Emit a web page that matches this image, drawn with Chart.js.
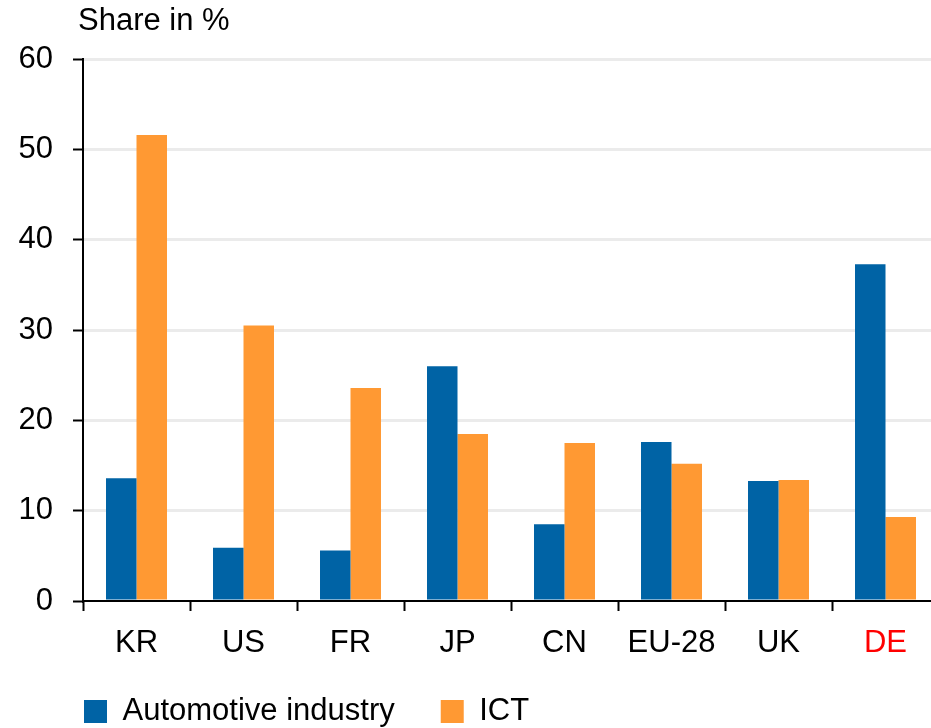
<!DOCTYPE html>
<html>
<head>
<meta charset="utf-8">
<script src="https://cdn.jsdelivr.net/npm/chart.js@4/dist/chart.umd.min.js"></script>
<style>
  html, body { margin: 0; padding: 0; overflow: hidden; background: #fff; }
  canvas { display: block; }
</style>
</head>
<body>
<canvas id="c" width="939" height="728"></canvas>
<script>
const categories = ["KR", "US", "FR", "JP", "CN", "EU-28", "UK", "DE"];
const automotive = [13.6, 5.9, 5.6, 26.0, 8.5, 17.6, 13.3, 37.3];
const ict = [51.6, 30.5, 23.6, 18.5, 17.5, 15.2, 13.4, 9.3];
const seriesNames = ["Automotive industry", "ICT"];
const seriesColors = ["#0063a5", "#ff9933"];
const yTitle = "Share in %";
const highlighted = "DE";

const FONT = "'Liberation Sans', Arial, sans-serif";
const FS = 31;
const LEG_PAD = 46;

const shiftPlugin = {
  id: 'shiftPlugin',
  afterLayout(chart) {
    if (chart.titleBlock) {
      chart.titleBlock.left += 78;
    }
    if (chart.legend) {
      chart.legend.left += 84 - LEG_PAD;
      chart.legend.top = 696.5 - (FS - 30) / 2 - LEG_PAD;
      chart.legend.bottom = 728;
    }
  }
};

new Chart(document.getElementById('c'), {
  type: 'bar',
  data: {
    labels: categories,
    datasets: [
      { label: seriesNames[0], data: automotive, backgroundColor: seriesColors[0], borderWidth: 0,
        categoryPercentage: 0.57, barPercentage: 1 },
      { label: seriesNames[1], data: ict, backgroundColor: seriesColors[1], borderWidth: 0,
        categoryPercentage: 0.57, barPercentage: 1 }
    ]
  },
  options: {
    responsive: false,
    animation: false,
    layout: { padding: { left: 0, right: 0, top: 0, bottom: 0 } },
    plugins: {
      title: {
        display: true,
        text: yTitle,
        align: 'start',
        color: '#000',
        font: { family: FONT, size: FS, weight: 'normal' },
        padding: { top: 3, bottom: 19 }
      },
      legend: {
        display: true,
        position: 'bottom',
        align: 'start',
        maxHeight: 68,
        labels: {
          color: '#000',
          font: { family: FONT, size: FS },
          boxWidth: 23,
          boxHeight: 23,
          padding: LEG_PAD
        }
      },
      tooltip: { enabled: false }
    },
    scales: {
      x: {
        afterFit(scale) { scale.height = 59; },
        grid: {
          drawOnChartArea: false,
          drawTicks: true,
          tickLength: 10,
          tickColor: '#000',
          tickWidth: 2,
          offset: true
        },
        border: { display: true, color: '#000', width: 2 },
        ticks: {
          color: (ctx) => categories[ctx.index] === highlighted ? '#ff0000' : '#000',
          font: { family: FONT, size: FS },
          padding: 14,
          maxRotation: 0,
          autoSkip: false
        }
      },
      y: {
        min: 0,
        max: 60,
        afterFit(scale) { scale.width = 83; },
        grid: {
          color: (ctx) => (ctx.tick && ctx.tick.value === 0) ? 'rgba(0,0,0,0)' : '#ebebeb',
          lineWidth: 3,
          drawTicks: true,
          tickLength: 10,
          tickColor: '#000',
          tickWidth: 2
        },
        border: { display: true, color: '#000', width: 2 },
        ticks: {
          stepSize: 10,
          color: '#000',
          font: { family: FONT, size: FS },
          padding: 20
        }
      }
    }
  },
  plugins: [shiftPlugin]
});
</script>
</body>
</html>
